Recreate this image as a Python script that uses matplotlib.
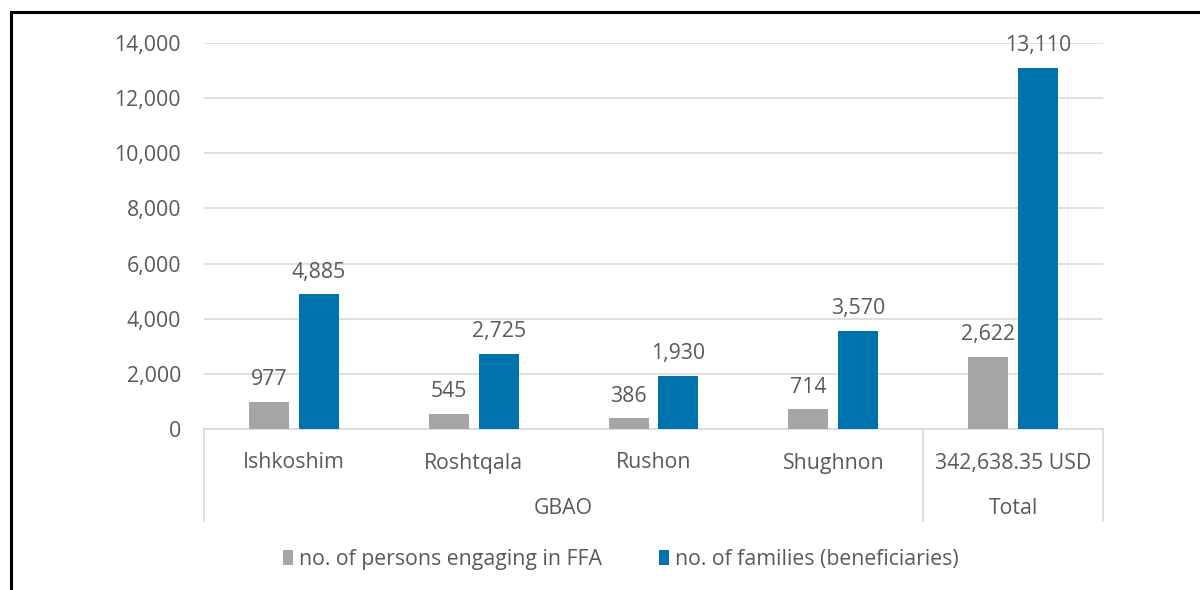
import matplotlib.pyplot as plt
from matplotlib.transforms import blended_transform_factory
import numpy as np

# data
districts = ['Ishkoshim', 'Roshtqala', 'Rushon', 'Shughnon', '342,638.35 USD']
groups = ['GBAO', 'Total']
persons_ffa = [977, 545, 386, 714, 2622]
families = [4885, 2725, 1930, 3570, 13110]
series_names = ['no. of persons engaging in FFA', 'no. of families (beneficiaries)']

GRAY = '#A5A5A5'
BLUE = '#0072AC'
TXT = '#595959'
GRID = '#D9D9D9'
FS = 15.3

plt.rcParams['font.family'] = ['Open Sans', 'DejaVu Sans']
plt.rcParams['font.size'] = FS

W, H = 1200, 590
fig = plt.figure(figsize=(12, 5.9), dpi=100)
ax = fig.add_axes([204 / W, 1 - 429 / H, (1103 - 204) / W, (429 - 43) / H])

x = np.arange(len(districts))
bw = 40 / 180
off = 25 / 180
b1 = ax.bar(x - off, persons_ffa, bw, color=GRAY, label=series_names[0], zorder=3)
b2 = ax.bar(x + off, families, bw, color=BLUE, label=series_names[1], zorder=3)

for bars, vals in ((b1, persons_ffa), (b2, families)):
    for r, v in zip(bars, vals):
        ax.annotate(f'{v:,}', (r.get_x() + r.get_width() / 2, v),
                    xytext=(0, 16), textcoords='offset points',
                    ha='center', va='center', color=TXT, fontsize=FS)

ax.set_xlim(-0.5, len(districts) - 0.5)
ax.set_ylim(0, 14000)
ax.set_yticks(np.arange(0, 14001, 2000))
ax.set_yticklabels([f'{v:,}' for v in range(0, 14001, 2000)], color=TXT)
ax.tick_params(axis='y', length=0, pad=16.5)
ax.set_xticks([])
ax.grid(axis='y', color=GRID, linewidth=1.2, zorder=0)
for s in ['top', 'right', 'left']:
    ax.spines[s].set_visible(False)
ax.spines['bottom'].set_color(GRID)
ax.spines['bottom'].set_linewidth(1.2)

# multi-level category axis
tr = blended_transform_factory(ax.transData, fig.transFigure)
for xi, name in zip(x, districts):
    ax.text(xi, 1 - 463 / H, name, transform=tr, ha='center', va='center',
            color=TXT, fontsize=FS)
ax.text(1.5, 1 - 508 / H, groups[0], transform=tr, ha='center', va='center',
        color=TXT, fontsize=FS)
ax.text(4, 1 - 508 / H, groups[1], transform=tr, ha='center', va='center',
        color=TXT, fontsize=FS)
for xs in (-0.5, 3.5, 4.5):
    ax.plot([xs, xs], [1 - 429 / H, 1 - 521 / H], transform=tr, color=GRID,
            linewidth=1.2, clip_on=False)

fig.legend(handles=[b1, b2], loc='center', bbox_to_anchor=(621 / W, 1 - 559 / H),
           ncol=2, frameon=False, handlelength=0.45, handleheight=0.7,
           handletextpad=0.3, columnspacing=2.7, labelcolor=TXT, fontsize=FS)

# outer frame (partly cropped)
fig.add_artist(plt.Line2D([11 / W, 1], [1 - 12 / H, 1 - 12 / H], color='black',
                          linewidth=2.2, transform=fig.transFigure))
fig.add_artist(plt.Line2D([11 / W, 11 / W], [0, 1 - 12 / H], color='black',
                          linewidth=2.2, transform=fig.transFigure))

fig.savefig('out.png', dpi=100)
